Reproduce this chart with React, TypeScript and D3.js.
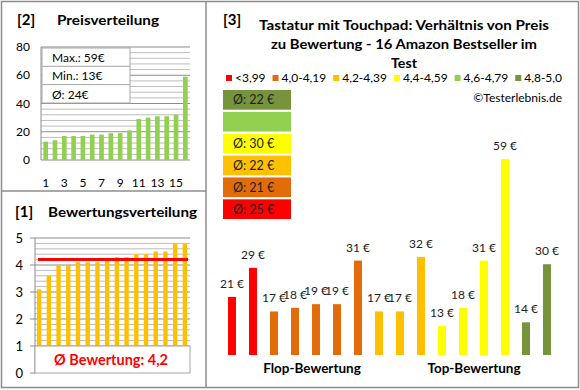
import React, { useEffect, useRef } from "react";
import * as d3 from "d3";

// prices of the 16 products, in order of rating (flop -> top)
const productPrices = [21, 29, 17, 18, 19, 19, 31, 17, 17, 32, 13, 18, 31, 59, 14, 30];
const productRatings = [3.1, 3.6, 4.0, 4.0, 4.1, 4.1, 4.1, 4.2, 4.3, 4.3, 4.4, 4.4, 4.5, 4.5, 4.8, 4.8];

const classLabels = ["<3,99", "4,0-4,19", "4,2-4,39", "4,4-4,59", "4,6-4,79", "4,8-5,0"];
const classColors = ["#ff0000", "#e36c0a", "#ffc000", "#ffff00", "#92d050", "#77933c"];
const classThresholds = [4.0, 4.2, 4.4, 4.6, 4.8];

const priceTicks = [0, 20, 40, 60, 80];
const ratingTicks = [0, 1, 2, 3, 4, 5];
const titleLines = [
  "Tastatur mit Touchpad: Verhältnis von Preis",
  "zu Bewertung - 16 Amazon Bestseller im",
  "Test",
];

const FONT = "Lato, 'Open Sans', sans-serif";

const App = () => {
  const ref = useRef<SVGSVGElement>(null);

  useEffect(() => {
    const svg = d3.select(ref.current);
    svg.selectAll("*").remove();

    const classOf = d3.scaleThreshold<number, number>().domain(classThresholds).range([0, 1, 2, 3, 4, 5]);
    const sortedPrices = d3.sort(productPrices);
    const sortedRatings = d3.sort(productRatings);
    const idx = d3.range(1, 17);

    // frame
    svg.append("rect").attr("x", 1.5).attr("y", 1.5).attr("width", 577).attr("height", 386)
      .attr("fill", "white").attr("stroke", "#8c8c8c").attr("stroke-width", 1.5);
    svg.append("line").attr("x1", 206).attr("x2", 206).attr("y1", 1).attr("y2", 388)
      .attr("stroke", "#8c8c8c").attr("stroke-width", 1.5);
    svg.append("line").attr("x1", 1).attr("x2", 206).attr("y1", 191).attr("y2", 191)
      .attr("stroke", "#8c8c8c").attr("stroke-width", 1.5);

    const g = svg.append("g").attr("font-family", FONT);

    // ---------- [2] Preisverteilung ----------
    g.append("text").attr("x", 17).attr("y", 25).attr("font-size", 15).attr("font-weight", "bold").text("[2]");
    g.append("text").attr("x", 57).attr("y", 25).attr("font-size", 13.5).attr("font-weight", "bold")
      .attr("textLength", 102).attr("lengthAdjust", "spacingAndGlyphs").text("Preisverteilung");

    const px = d3.scaleBand<number>().domain(idx).range([41, 190]).paddingInner(0.5).paddingOuter(0.25);
    const py = d3.scaleLinear().domain([0, 80]).range([160, 47]);

    g.append("g").selectAll("line").data(d3.range(4, 81, 4)).join("line")
      .attr("x1", 41).attr("x2", 190).attr("y1", d => py(d)).attr("y2", d => py(d))
      .attr("stroke", d => (d % 20 === 0 ? "#8c8c8c" : "#bdbdbd")).attr("stroke-width", 1);
    g.append("line").attr("x1", 41).attr("x2", 41).attr("y1", py(80)).attr("y2", py(0)).attr("stroke", "#8c8c8c");
    g.append("line").attr("x1", 41).attr("x2", 190).attr("y1", py(0)).attr("y2", py(0)).attr("stroke", "#8c8c8c");

    g.append("g").selectAll("rect").data(sortedPrices).join("rect")
      .attr("x", (d, i) => px(i + 1)!).attr("width", px.bandwidth())
      .attr("y", d => py(d)).attr("height", d => py(0) - py(d)).attr("fill", "#92d050");

    g.append("g").selectAll("text").data(priceTicks).join("text")
      .attr("x", 30).attr("y", d => py(d) + 4).attr("text-anchor", "end").attr("font-size", 12).text(d => d);
    g.append("g").selectAll("text").data(idx.filter(d => d % 2 === 1)).join("text")
      .attr("x", d => px(d)! + px.bandwidth() / 2).attr("y", 187).attr("text-anchor", "middle")
      .attr("font-size", 12).text(d => d);

    const stats = [
      `Max.: ${d3.max(sortedPrices)}€`,
      `Min.: ${d3.min(sortedPrices)}€`,
      `Ø: ${Math.round(d3.mean(sortedPrices)!)}€`,
    ];
    const box = g.append("g");
    box.append("rect").attr("x", 42).attr("y", 48).attr("width", 88).attr("height", 55)
      .attr("fill", "white").attr("stroke", "#a6a6a6");
    box.selectAll("line").data([1, 2]).join("line")
      .attr("x1", 42).attr("x2", 130).attr("y1", d => 48 + d * 18.3).attr("y2", d => 48 + d * 18.3)
      .attr("stroke", "#a6a6a6");
    box.selectAll("text").data(stats).join("text")
      .attr("x", 52).attr("y", (d, i) => 62 + i * 18.3).attr("font-size", 12).text(d => d);

    // ---------- [1] Bewertungsverteilung ----------
    g.append("text").attr("x", 15).attr("y", 217).attr("font-size", 15).attr("font-weight", "bold").text("[1]");
    g.append("text").attr("x", 48).attr("y", 217).attr("font-size", 13.5).attr("font-weight", "bold")
      .attr("textLength", 149).attr("lengthAdjust", "spacingAndGlyphs").text("Bewertungsverteilung");

    const rx = d3.scaleBand<number>().domain(idx).range([35, 189]).paddingInner(0.55).paddingOuter(0.2);
    const ry = d3.scaleLinear().domain([0, 5]).range([373, 238]);

    g.append("g").selectAll("line").data(d3.range(1, 26).map(d => d / 5)).join("line")
      .attr("x1", 35).attr("x2", 190).attr("y1", d => ry(d)).attr("y2", d => ry(d))
      .attr("stroke", d => (Math.abs(d - Math.round(d)) < 1e-6 ? "#8c8c8c" : "#bdbdbd"));
    g.append("line").attr("x1", 35).attr("x2", 35).attr("y1", ry(5)).attr("y2", ry(0)).attr("stroke", "#8c8c8c");
    g.append("g").selectAll("line").data(ratingTicks).join("line")
      .attr("x1", 30).attr("x2", 35).attr("y1", d => ry(d)).attr("y2", d => ry(d)).attr("stroke", "#8c8c8c");

    g.append("g").selectAll("rect").data(sortedRatings).join("rect")
      .attr("x", (d, i) => rx(i + 1)!).attr("width", rx.bandwidth())
      .attr("y", d => ry(d)).attr("height", d => ry(0) - ry(d)).attr("fill", "#ffc000");

    g.append("g").selectAll("text").data(ratingTicks).join("text")
      .attr("x", 23).attr("y", d => ry(d) + 5).attr("text-anchor", "end").attr("font-size", 13).text(d => d);

    const avgRating = d3.mean(sortedRatings)!;
    g.append("line").attr("x1", 38).attr("x2", 188).attr("y1", ry(avgRating)).attr("y2", ry(avgRating))
      .attr("stroke", "#ff0000").attr("stroke-width", 3);

    g.append("rect").attr("x", 35).attr("y", ry(1)).attr("width", 155).attr("height", ry(0) - ry(1))
      .attr("fill", "white").attr("stroke", "#a6a6a6");
    g.append("text").attr("x", 111).attr("y", 365).attr("text-anchor", "middle").attr("font-size", 14.5)
      .attr("font-weight", "bold").attr("fill", "#ff0000")
      .text(`Ø Bewertung: ${avgRating.toFixed(1).replace(".", ",")}`);

    // ---------- [3] Preis / Bewertung ----------
    g.append("text").attr("x", 223).attr("y", 25).attr("font-size", 15).attr("font-weight", "bold").text("[3]");
    const titleWidths = [290, 266, 26];
    g.append("g").selectAll("text").data(titleLines).join("text")
      .attr("x", 404).attr("y", (d, i) => 29.5 + i * 19).attr("text-anchor", "middle")
      .attr("font-size", 13.5).attr("font-weight", "bold")
      .attr("textLength", (d, i) => titleWidths[i]).attr("lengthAdjust", "spacingAndGlyphs").text(d => d);

    // legend, spread between x=226 and x=562
    const legend = g.append("g");
    const items = classLabels.map((lab, i) => {
      const gi = legend.append("g");
      gi.append("rect").attr("x", 0).attr("y", 75).attr("width", 6).attr("height", 6).attr("fill", classColors[i]);
      const t = gi.append("text").attr("x", 9).attr("y", 82).attr("font-size", 12).text(lab);
      return { gi, w: 9 + (t.node() as SVGTextElement).getComputedTextLength() };
    });
    const total = d3.sum(items, d => d.w);
    const gap = (562 - 226 - total) / (items.length - 1);
    let lx = 226;
    items.forEach(it => {
      it.gi.attr("transform", `translate(${lx},0)`);
      lx += it.w + gap;
    });

    g.append("text").attr("x", 562).attr("y", 102).attr("text-anchor", "end").attr("font-size", 12)
      .text("©Testerlebnis.de");

    // average price per rating class
    const classAvg = classLabels.map((lab, c) => {
      const ps = productPrices.filter((p, i) => classOf(productRatings[i]) === c);
      return ps.length ? Math.round(d3.mean(ps)!) : null;
    });
    const boxOrder = d3.range(5, -1, -1);
    const by = d3.scaleBand<number>().domain(boxOrder).range([90, 219]).paddingInner(0.1);
    const avgBoxes = g.append("g");
    avgBoxes.selectAll("rect").data(boxOrder).join("rect")
      .attr("x", 223).attr("width", 68).attr("y", d => by(d)!).attr("height", by.bandwidth())
      .attr("fill", d => classColors[d]);
    avgBoxes.selectAll("text").data(boxOrder.filter(d => classAvg[d] !== null)).join("text")
      .attr("x", 233).attr("y", d => by(d)! + by.bandwidth() / 2 + 4.5).attr("font-size", 12.5).attr("fill", "#222")
      .text(d => `Ø: ${classAvg[d]} €`);

    // bars
    const bx = d3.scaleBand<number>().domain(idx).range([221.5, 557.5]).paddingInner(0.62).paddingOuter(0.31);
    const bY = d3.scaleLinear().domain([5, 70]).range([355, 119]);
    g.append("g").selectAll("rect").data(productPrices).join("rect")
      .attr("x", (d, i) => bx(i + 1)!).attr("width", bx.bandwidth())
      .attr("y", d => bY(d)).attr("height", d => bY(5) - bY(d))
      .attr("fill", (d, i) => classColors[classOf(productRatings[i])]);
    g.append("g").selectAll("text").data(productPrices).join("text")
      .attr("x", (d, i) => bx(i + 1)! + bx.bandwidth() / 2).attr("y", d => bY(d) - 9)
      .attr("text-anchor", "middle").attr("font-size", 12).attr("fill", "#222").text(d => `${d} €`);

    g.append("text").attr("x", 312).attr("y", 373).attr("text-anchor", "middle").attr("font-size", 13.5)
      .attr("font-weight", "bold").text("Flop-Bewertung");
    g.append("text").attr("x", 474).attr("y", 373).attr("text-anchor", "middle").attr("font-size", 13.5)
      .attr("font-weight", "bold").text("Top-Bewertung");
  }, []);

  return (
    <svg ref={ref} width={580} height={390} style={{ position: "absolute", left: 0, top: 0 }} />
  );
};

export default App;
